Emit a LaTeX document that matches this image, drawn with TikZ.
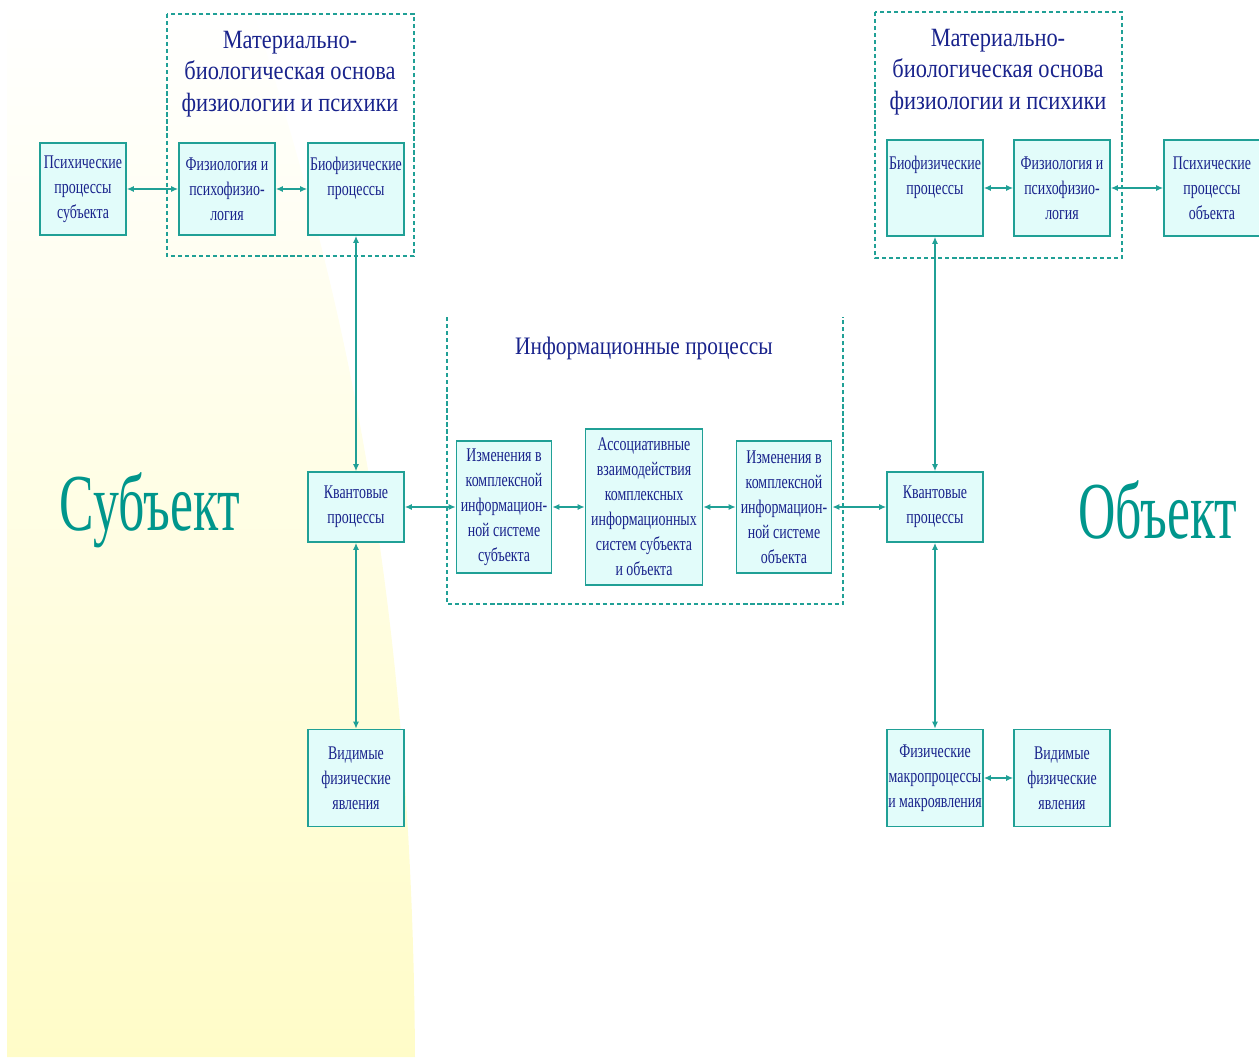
\documentclass[tikz,border=0pt]{standalone}
\usepackage{fontspec}
\setmainfont{Liberation Serif}
\newfontfamily\boxfont[FakeStretch=0.72]{Liberation Serif}
\newfontfamily\headfont[FakeStretch=0.85]{Liberation Serif}
\newfontfamily\sidefont[FakeStretch=0.64]{Liberation Serif}
\usetikzlibrary{arrows.meta}

\definecolor{lineteal}{RGB}{32,160,150}
\definecolor{boxcyan}{RGB}{226,252,250}
\definecolor{boxtext}{RGB}{25,35,140}
\definecolor{bigteal}{RGB}{0,150,140}
\definecolor{paleyellow}{RGB}{255,252,200}

\begin{document}
\begin{tikzpicture}[x=0.02cm,y=-0.02cm]
	\tikzset{
		box/.style={draw=lineteal, line width=0.9pt, fill=boxcyan, text=boxtext, align=center,
			font=\boxfont\fontsize{11}{14.2}\selectfont, inner sep=0.5pt,
			minimum width=1.92cm, minimum height=1.84cm},
		link/.style={draw=lineteal, line width=0.9pt, {Latex[length=4pt,width=3.5pt]}-{Latex[length=4pt,width=3.5pt]}},
		frame/.style={draw=lineteal, line width=0.8pt, dash pattern=on 2.4pt off 1.6pt},
		heading/.style={text=boxtext, align=center, font=\headfont\fontsize{15}{18}\selectfont},
		side/.style={text=bigteal, font=\sidefont\fontsize{46}{50}\selectfont},
	}
	\useasboundingbox (0,0) rectangle (1259,1059);
	
	% The pale yellow backdrop on the left.
	\shade[top color=white, bottom color=paleyellow]
		(7,0) -- (250,0) .. controls (330,250) and (412,550) .. (415,1057) -- (7,1057) -- cycle;
	
	% Dashed frames first.
	\draw[frame] (167,14) rectangle (414,256);
	\draw[frame] (875,12) rectangle (1122,258);
	\draw[frame] (447,317) -- (447,604) -- (843,604) -- (843,317);
	
	% Headings inside the frames.
	\node[heading] (baseS) at (290,74) {Материально-\\биологическая основа\\физиологии и психики};
	\node[heading] (baseO) at (998,72) {Материально-\\биологическая основа\\физиологии и психики};
	\node[heading, font=\headfont\fontsize{14.3}{18}\selectfont] (infoT) at (644,348) {Информационные процессы};
	
	\node[side] (subj) at (150,510) {Субъект};
	\node[side] (obj) at (1158,510) {Объект};
	
	% Subject side.
	\node[box, minimum width=1.72cm] (psS) at (83,189) {Психические\\процессы\\субъекта};
	\node[box] (phyS) at (227,189) {Физиология и\\психофизио-\\логия};
	\node[box] (bioS) at (356,189) {Биофизические\\процессы\\~};
	\node[box, minimum height=1.4cm] (kvS) at (356,507) {Квантовые\\процессы};
	\node[box, minimum height=1.94cm] (visS) at (356,778) {Видимые\\физические\\явления};
	
	% Information processes.
	\node[box, minimum width=1.9cm, minimum height=2.64cm] (infS) at (504,507) {Изменения в\\комплексной\\информацион-\\ной системе\\субъекта};
	\node[box, minimum width=2.34cm, minimum height=3.12cm] (assoc) at (644,507) {Ассоциативные\\взаимодействия\\комплексных\\информационных\\систем субъекта\\и объекта};
	\node[box, minimum width=1.9cm, minimum height=2.64cm] (infO) at (784,507) {Изменения в\\комплексной\\информацион-\\ной системе\\объекта};
	
	% Object side.
	\node[box, minimum height=1.92cm] (bioO) at (935,188) {Биофизические\\процессы\\~};
	\node[box, minimum height=1.92cm] (phyO) at (1062,188) {Физиология и\\психофизио-\\логия};
	\node[box, minimum height=1.92cm] (psO) at (1212,188) {Психические\\процессы\\объекта};
	\node[box, minimum height=1.4cm] (kvO) at (935,507) {Квантовые\\процессы};
	\node[box, minimum height=1.94cm] (macro) at (935,778) {Физические\\макропроцессы\\и макроявления};
	\node[box, minimum height=1.94cm] (visO) at (1062,778) {Видимые\\физические\\явления};
	
	% Connectors, all two-headed.
	\draw[link] (psS) -- (phyS);
	\draw[link] (phyS) -- (bioS);
	\draw[link] (bioS) -- (kvS);
	\draw[link] (kvS) -- (visS);
	\draw[link] (kvS) -- (infS);
	\draw[link] (infS) -- (assoc);
	\draw[link] (assoc) -- (infO);
	\draw[link] (infO) -- (kvO);
	\draw[link] (kvO) -- (bioO);
	\draw[link] (kvO) -- (macro);
	\draw[link] (macro) -- (visO);
	\draw[link] (bioO) -- (phyO);
	\draw[link] (phyO) -- (psO);
\end{tikzpicture}
\end{document}
